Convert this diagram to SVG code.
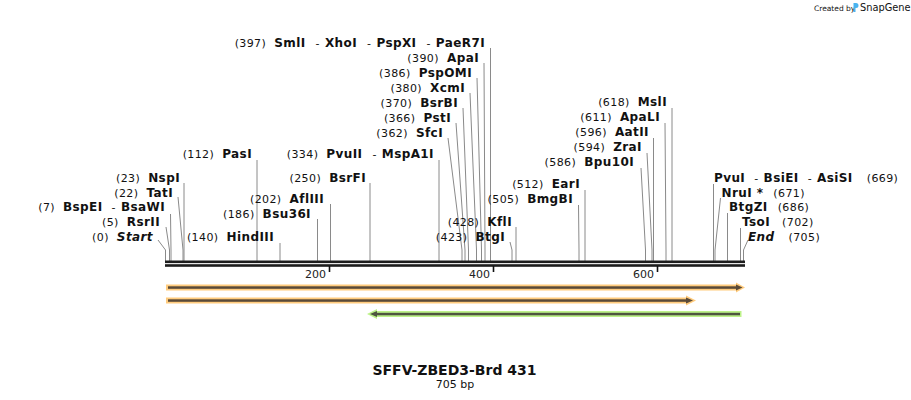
<svg xmlns="http://www.w3.org/2000/svg" width="911" height="400" viewBox="0 0 911 400">
<style>
text{font-family:"DejaVu Sans","Noto Sans",Verdana,sans-serif;fill:#111}
.l{font-size:11px;letter-spacing:0.4px}
.b{font-weight:bold;font-size:12px}
.i{font-style:italic}
.conn polyline{stroke:#8a8a8a;stroke-width:1;fill:none}
.tick{stroke:#111;stroke-width:1.6}
.tl{font-size:11px;fill:#222}
</style>
<rect width="911" height="400" fill="#fff"/>

<g id="connectors" class="conn">
<polyline points="165.5,261 165.5,250 158,240"/>
<polyline points="169.5,261 169.5,250 166,227"/>
<polyline points="171,261 171,250 170.5,214"/>
<polyline points="183,261 183,250 178,197"/>
<polyline points="184,261 184,183"/>
<polyline points="257,261 257,160"/>
<polyline points="280,261 280,243"/>
<polyline points="317.5,261 317.5,219"/>
<polyline points="330.5,261 330.5,204"/>
<polyline points="370,261 370,183"/>
<polyline points="439,261 439,160"/>
<polyline points="462,261 462,250 448,138"/>
<polyline points="465,261 465,250 456,123"/>
<polyline points="468.5,261 468.5,250 463,108"/>
<polyline points="476.5,261 476.5,250 470,93"/>
<polyline points="481.5,261 481.5,250 477,78"/>
<polyline points="485,261 485,250 484,63"/>
<polyline points="490.5,261 490.5,48"/>
<polyline points="512,261 512,250 510,242"/>
<polyline points="516,261 516,227"/>
<polyline points="579,261 579,250 578.5,205"/>
<polyline points="585,261 585,190"/>
<polyline points="645.5,261 645.5,250 641,168"/>
<polyline points="652,261 652,250 647,153"/>
<polyline points="653.5,261 653.5,138"/>
<polyline points="666,261 666,250 665,123"/>
<polyline points="672,261 672,108"/>
<polyline points="713.5,261 713.5,184"/>
<polyline points="715,261 715,250 720.5,198"/>
<polyline points="727.5,261 727.5,213"/>
<polyline points="740.5,261 740.5,228"/>
<polyline points="743.5,261 743.5,250 748,240"/>
</g>

<g id="backbone">
<rect x="165" y="260.5" width="580" height="2.6" fill="#1c1c1c"/>
<rect x="165" y="264.2" width="580" height="2.6" fill="#1c1c1c"/>
<line class="tick" x1="329.5" y1="266" x2="329.5" y2="272"/>
<line class="tick" x1="493.5" y1="266" x2="493.5" y2="272"/>
<line class="tick" x1="657.5" y1="266" x2="657.5" y2="272"/>
<text class="tl" x="326" y="278" text-anchor="end">200</text>
<text class="tl" x="490" y="278" text-anchor="end">400</text>
<text class="tl" x="654" y="278" text-anchor="end">600</text>
</g>

<g id="site-0"><text class="l" x="153" y="241" text-anchor="end">(0)<tspan class="b i" dx="8">Start</tspan></text></g>
<g id="site-5"><text class="l" x="160" y="226" text-anchor="end">(5)<tspan class="b" dx="8">RsrII</tspan></text></g>
<g id="site-7"><text class="l" x="165" y="211" text-anchor="end">(7)<tspan class="b" dx="8">BspEI</tspan><tspan dx="9">-</tspan><tspan class="b" dx="5">BsaWI</tspan></text></g>
<g id="site-22"><text class="l" x="173" y="197" text-anchor="end">(22)<tspan class="b" dx="8">TatI</tspan></text></g>
<g id="site-23"><text class="l" x="180" y="182" text-anchor="end">(23)<tspan class="b" dx="8">NspI</tspan></text></g>
<g id="site-112"><text class="l" x="252" y="158" text-anchor="end">(112)<tspan class="b" dx="8">PasI</tspan></text></g>
<g id="site-140"><text class="l" x="274" y="241" text-anchor="end">(140)<tspan class="b" dx="8">HindIII</tspan></text></g>
<g id="site-186"><text class="l" x="311" y="218" text-anchor="end">(186)<tspan class="b" dx="8">Bsu36I</tspan></text></g>
<g id="site-202"><text class="l" x="324" y="203" text-anchor="end">(202)<tspan class="b" dx="8">AflIII</tspan></text></g>
<g id="site-250"><text class="l" x="366" y="182" text-anchor="end">(250)<tspan class="b" dx="8">BsrFI</tspan></text></g>
<g id="site-334"><text class="l" x="434" y="158" text-anchor="end">(334)<tspan class="b" dx="8">PvuII</tspan><tspan dx="10">-</tspan><tspan class="b" dx="5">MspA1I</tspan></text></g>
<g id="site-362"><text class="l" x="443" y="137" text-anchor="end">(362)<tspan class="b" dx="8">SfcI</tspan></text></g>
<g id="site-366"><text class="l" x="451" y="122" text-anchor="end">(366)<tspan class="b" dx="8">PstI</tspan></text></g>
<g id="site-370"><text class="l" x="458" y="107" text-anchor="end">(370)<tspan class="b" dx="8">BsrBI</tspan></text></g>
<g id="site-380"><text class="l" x="465" y="92" text-anchor="end">(380)<tspan class="b" dx="8">XcmI</tspan></text></g>
<g id="site-386"><text class="l" x="472" y="77" text-anchor="end">(386)<tspan class="b" dx="8">PspOMI</tspan></text></g>
<g id="site-390"><text class="l" x="479" y="62" text-anchor="end">(390)<tspan class="b" dx="8">ApaI</tspan></text></g>
<g id="site-397"><text class="l" x="485" y="47" text-anchor="end">(397)<tspan class="b" dx="8">SmlI</tspan><tspan dx="10">-</tspan><tspan class="b" dx="5">XhoI</tspan><tspan dx="10">-</tspan><tspan class="b" dx="5">PspXI</tspan><tspan dx="10">-</tspan><tspan class="b" dx="5">PaeR7I</tspan></text></g>
<g id="site-423"><text class="l" x="505" y="241" text-anchor="end">(423)<tspan class="b" dx="8">BtgI</tspan></text></g>
<g id="site-428"><text class="l" x="512" y="226" text-anchor="end">(428)<tspan class="b" dx="8">KflI</tspan></text></g>
<g id="site-505"><text class="l" x="573" y="203" text-anchor="end">(505)<tspan class="b" dx="8">BmgBI</tspan></text></g>
<g id="site-512"><text class="l" x="580" y="188" text-anchor="end">(512)<tspan class="b" dx="8">EarI</tspan></text></g>
<g id="site-586"><text class="l" x="634" y="166" text-anchor="end">(586)<tspan class="b" dx="8">Bpu10I</tspan></text></g>
<g id="site-594"><text class="l" x="642" y="151" text-anchor="end">(594)<tspan class="b" dx="8">ZraI</tspan></text></g>
<g id="site-596"><text class="l" x="649" y="136" text-anchor="end">(596)<tspan class="b" dx="8">AatII</tspan></text></g>
<g id="site-611"><text class="l" x="660" y="121" text-anchor="end">(611)<tspan class="b" dx="8">ApaLI</tspan></text></g>
<g id="site-618"><text class="l" x="667" y="106" text-anchor="end">(618)<tspan class="b" dx="8">MslI</tspan></text></g>

<g id="site-669"><text class="l" x="714" y="182"><tspan class="b">PvuI</tspan><tspan dx="9">-</tspan><tspan class="b" dx="5">BsiEI</tspan><tspan dx="9">-</tspan><tspan class="b" dx="5">AsiSI</tspan><tspan dx="14">(669)</tspan></text></g>
<g id="site-671"><text class="l" x="721.5" y="197"><tspan class="b">NruI *</tspan><tspan dx="10">(671)</tspan></text></g>
<g id="site-686"><text class="l" x="729" y="211"><tspan class="b">BtgZI</tspan><tspan dx="10">(686)</tspan></text></g>
<g id="site-702"><text class="l" x="742" y="226"><tspan class="b">TsoI</tspan><tspan dx="12">(702)</tspan></text></g>
<g id="site-705"><text class="l" x="748" y="241"><tspan class="b i">End</tspan><tspan dx="14">(705)</tspan></text></g>

<g id="feature-1">
<rect x="166" y="284.5" width="571" height="6" fill="#FFCB7D"/>
<polygon points="736,282.5 745,287.5 736,292.5" fill="#FFCB7D"/>
<rect x="168" y="286.3" width="569" height="2.5" fill="#5a4a38"/>
<polygon points="736,284.5 742.5,287.5 736,290.5" fill="#5a4a38"/>
</g>
<g id="feature-2">
<rect x="166" y="297.5" width="521" height="6" fill="#FFCB7D"/>
<polygon points="686,295.5 696,300.5 686,305.5" fill="#FFCB7D"/>
<rect x="168" y="299.3" width="519" height="2.5" fill="#5a4a38"/>
<polygon points="686,297.5 693,300.5 686,303.5" fill="#5a4a38"/>
</g>
<g id="feature-3">
<rect x="376" y="311" width="365.5" height="6" fill="#BDF28A"/>
<polygon points="377,309 367,314 377,319" fill="#BDF28A"/>
<rect x="376" y="312.8" width="364" height="2.5" fill="#4f5540"/>
<polygon points="377,311 370,314 377,317" fill="#4f5540"/>
</g>

<g id="title">
<text x="454.5" y="375" text-anchor="middle" font-weight="bold" font-size="14">SFFV-ZBED3-Brd 431</text>
<text x="455" y="388" text-anchor="middle" font-size="11" fill="#222">705 bp</text>
</g>

<g id="credit">
<text x="814" y="10.5" font-size="7.5" fill="#b4b4b4">Created by</text>
<path d="M853.5,3 h2.5 a2.5,2.5 0 0 1 0,5 h-0.5 v4 h-2 z" fill="#49b3ef"/>
<text x="860" y="11" font-size="9.8" fill="#9a9a9a">SnapGene</text>
</g>
</svg>
